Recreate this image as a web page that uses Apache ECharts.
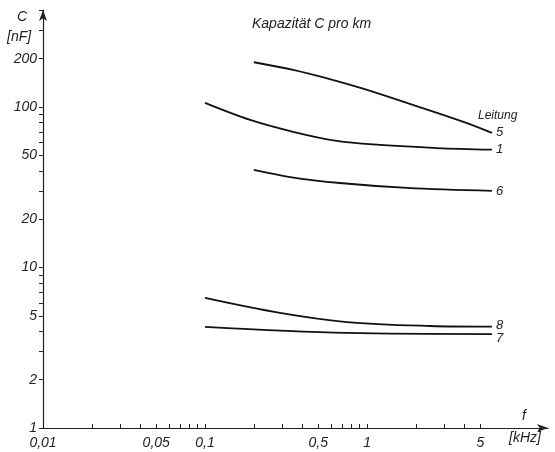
<!DOCTYPE html>
<html>
<head>
<meta charset="utf-8">
<script src="https://cdn.jsdelivr.net/npm/echarts@6/dist/echarts.min.js"></script>
<style>
html,body{margin:0;padding:0;background:#fff;}
#c{width:555px;height:452px;}
</style>
</head>
<body>
<div id="c"></div>
<script>
// ---- data (f in kHz, C in nF) ----
var line5 = [[0.2, 190], [0.35, 170], [0.62, 147], [0.945, 130], [1.92, 103], [3.9, 81], [5.9, 69]];
var line1 = [[0.1, 106], [0.19, 83], [0.35, 70], [0.65, 61.4], [1.2, 58], [2.7, 55.5], [5.9, 54.2]];
var line6 = [[0.2, 40.5], [0.335, 36.6], [0.68, 33.6], [1.77, 31.3], [5.9, 30.0]];
var line8 = [[0.1, 6.46], [0.29, 5.21], [0.75, 4.57], [2.45, 4.32], [5.9, 4.28]];
var line7 = [[0.1, 4.26], [0.75, 3.91], [5.9, 3.85]];

var xLabelValues = [0.01, 0.05, 0.1, 0.5, 1, 5];
var xTickValues = [0.01,0.02,0.03,0.04,0.05,0.06,0.07,0.08,0.09,0.1,0.2,0.3,0.4,0.5,0.6,0.7,0.8,0.9,1,2,3,4,5];
var yLabelValues = [1, 2, 5, 10, 20, 50, 100, 200];
var yTickValues = [1,2,3,4,5,6,7,8,9,10,20,30,40,50,60,70,80,90,100,200,300,400];

var FONT = 'Liberation Sans';
var chart = echarts.init(document.getElementById('c'), null, {renderer: 'canvas'});

function mkSeries(name, data, labelOffset) {
  return {
    type: 'line',
    name: name,
    data: data,
    smooth: 0.35,
    showSymbol: false,
    symbol: 'none',
    lineStyle: {color: '#111', width: 1.8},
    endLabel: {
      show: true,
      formatter: '{a}',
      distance: 4,
      offset: labelOffset || [0, 0],
      color: '#222',
      fontFamily: FONT,
      fontStyle: 'italic',
      fontSize: 13
    },
    animation: false
  };
}

chart.setOption({
  backgroundColor: '#fff',
  animation: false,
  grid: {left: 43, right: 7, top: 10, bottom: 24},
  xAxis: {
    type: 'log',
    logBase: 10,
    min: 0.01,
    max: 13.09,
    axisLine: {show: true, lineStyle: {color: '#222', width: 1.2}, symbol: ['none', 'arrow'], symbolSize: [6, 11]},
    axisTick: {show: true, inside: true, length: 4, lineStyle: {color: '#222'}, customValues: xTickValues},
    axisLabel: {
      customValues: xLabelValues,
      margin: 8,
      color: '#222',
      fontFamily: FONT,
      fontStyle: 'italic',
      fontSize: 14,
      formatter: function (v) { return String(v).replace('.', ','); }
    },
    splitLine: {show: false},
    minorTick: {show: false}
  },
  yAxis: {
    type: 'log',
    logBase: 10,
    min: 1,
    max: 402,
    axisLine: {show: true, lineStyle: {color: '#222', width: 1.2}, symbol: ['none', 'arrow'], symbolSize: [6, 11]},
    axisTick: {show: true, inside: false, length: 4, lineStyle: {color: '#222'}, customValues: yTickValues},
    axisLabel: {
      customValues: yLabelValues,
      margin: 6,
      color: '#222',
      fontFamily: FONT,
      fontStyle: 'italic',
      fontSize: 14
    },
    splitLine: {show: false},
    minorTick: {show: false}
  },
  graphic: [
    {type: 'text', left: 252, top: 17, style: {text: 'Kapazität C pro km', font: 'italic 14px "Liberation Sans"', fill: '#222'}},
    {type: 'text', left: 478, top: 110, style: {text: 'Leitung', font: 'italic 12px "Liberation Sans"', fill: '#222'}},
    {type: 'text', left: 17, top: 10, style: {text: 'C', font: 'italic 14px "Liberation Sans"', fill: '#222'}},
    {type: 'text', left: 7, top: 30, style: {text: '[nF]', font: 'italic 14px "Liberation Sans"', fill: '#222'}},
    {type: 'text', left: 522, top: 409, style: {text: 'f', font: 'italic 14px "Liberation Sans"', fill: '#222'}},
    {type: 'text', left: 509, top: 431, style: {text: '[kHz]', font: 'italic 14px "Liberation Sans"', fill: '#222'}}
  ],
  series: [
    mkSeries('5', line5),
    mkSeries('1', line1),
    mkSeries('6', line6),
    mkSeries('8', line8, [0, -1]),
    mkSeries('7', line7, [0, 4])
  ]
});
</script>
</body>
</html>
